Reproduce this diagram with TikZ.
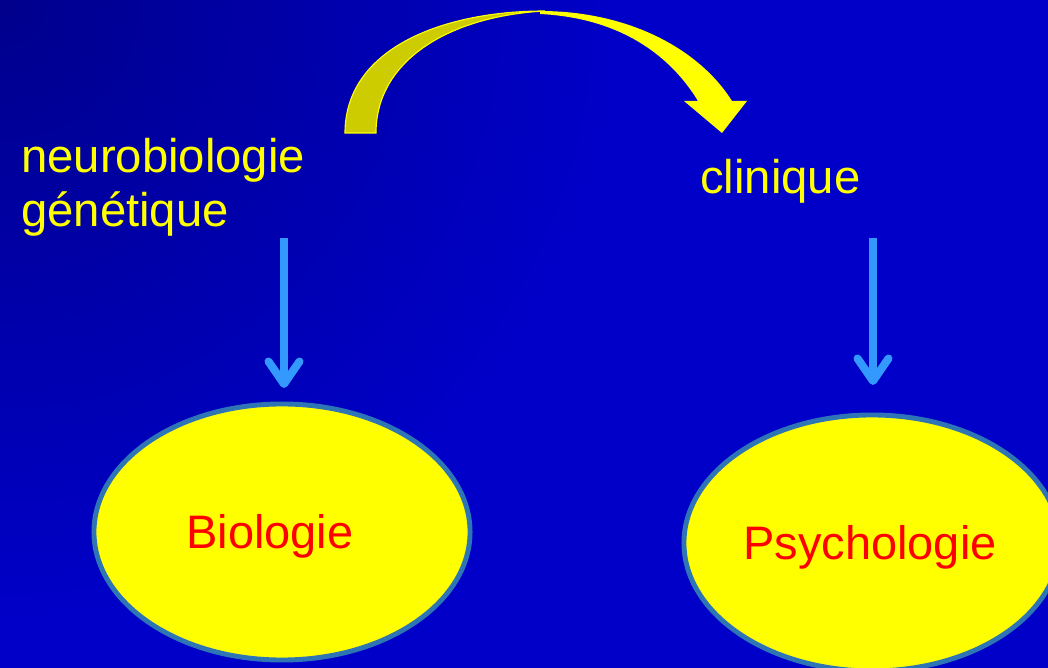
\documentclass[tikz,border=0pt]{standalone}
\usepackage{fontspec}
\setmainfont{Liberation Sans}
\usepackage{tikz}
\usetikzlibrary{shapes.geometric, arrows.meta, positioning, calc}

\definecolor{bgblue}{RGB}{0, 0, 200}
\definecolor{bgdark}{RGB}{0, 0, 140}
\definecolor{lblyellow}{RGB}{255, 255, 0}
\definecolor{olive1}{RGB}{204, 204, 0}
\definecolor{arrowblue}{RGB}{51, 153, 255}
\definecolor{rimblue}{RGB}{46, 117, 182}
\definecolor{textred}{RGB}{255, 0, 0}

\tikzset{
  lbl/.style={font=\fontsize{33.6}{39}\selectfont, text=lblyellow, inner sep=0pt},
  blob/.style={ellipse, draw=rimblue, fill=lblyellow, line width=3.5pt,
    minimum width=9.4cm, minimum height=6.4cm, inner sep=0pt},
  blobtext/.style={font=\fontsize{33.4}{39}\selectfont, text=textred, inner sep=0pt},
  downarrow/.style={arrowblue, line width=5.7pt,
    -{Straight Barb[length=16pt, width=22pt, round]}}
}

\begin{document}
\begin{tikzpicture}[x=0.025cm, y=-0.025cm]
  % background
  \useasboundingbox (0,0) rectangle (1048,668);
  \fill[bgblue] (0,0) rectangle (1048,668);
  \begin{scope}
    \clip (0,0) rectangle (1048,668);
    \shade[inner color=bgdark, outer color=bgblue] (0,0) circle (620);
  \end{scope}

  % ellipses
  \node[blob] (bio) at (282,532) {};
  \node[blob] (psy) at (872,543) {};
  \node[blobtext] (biotxt) at (270,536) {Biologie};
  \node[blobtext] (psytxt) at (870,547) {Psychologie};

  % labels
  \node[lbl, align=left, anchor=base west] (neuro) at (21,227) {neurobiologie\\génétique};
  \node[lbl, anchor=base west] (clin) at (700,194) {clinique};

  % down arrows
  \coordinate (bstart) at (284,238);
  \coordinate (bend) at (284,388);
  \coordinate (pstart) at (873,238);
  \coordinate (pend) at (873,385);
  \draw[downarrow] (bstart) -- (bend);
  \draw[downarrow] (pstart) -- (pend);

  % curved arrow
  \fill[olive1, draw=lblyellow, line width=0.8pt]
    (345,133) .. controls (345,50) and (440,11) .. (545,11)
    .. controls (450,16) and (376,60) .. (376,133) -- cycle;
  \fill[lblyellow]
    (540,11) .. controls (630,11) and (700,50) .. (732,101)
    -- (747,101) -- (722,133) -- (684,101) -- (698,101)
    .. controls (670,55) and (620,18) .. (540,14) -- cycle;
\end{tikzpicture}
\end{document}
